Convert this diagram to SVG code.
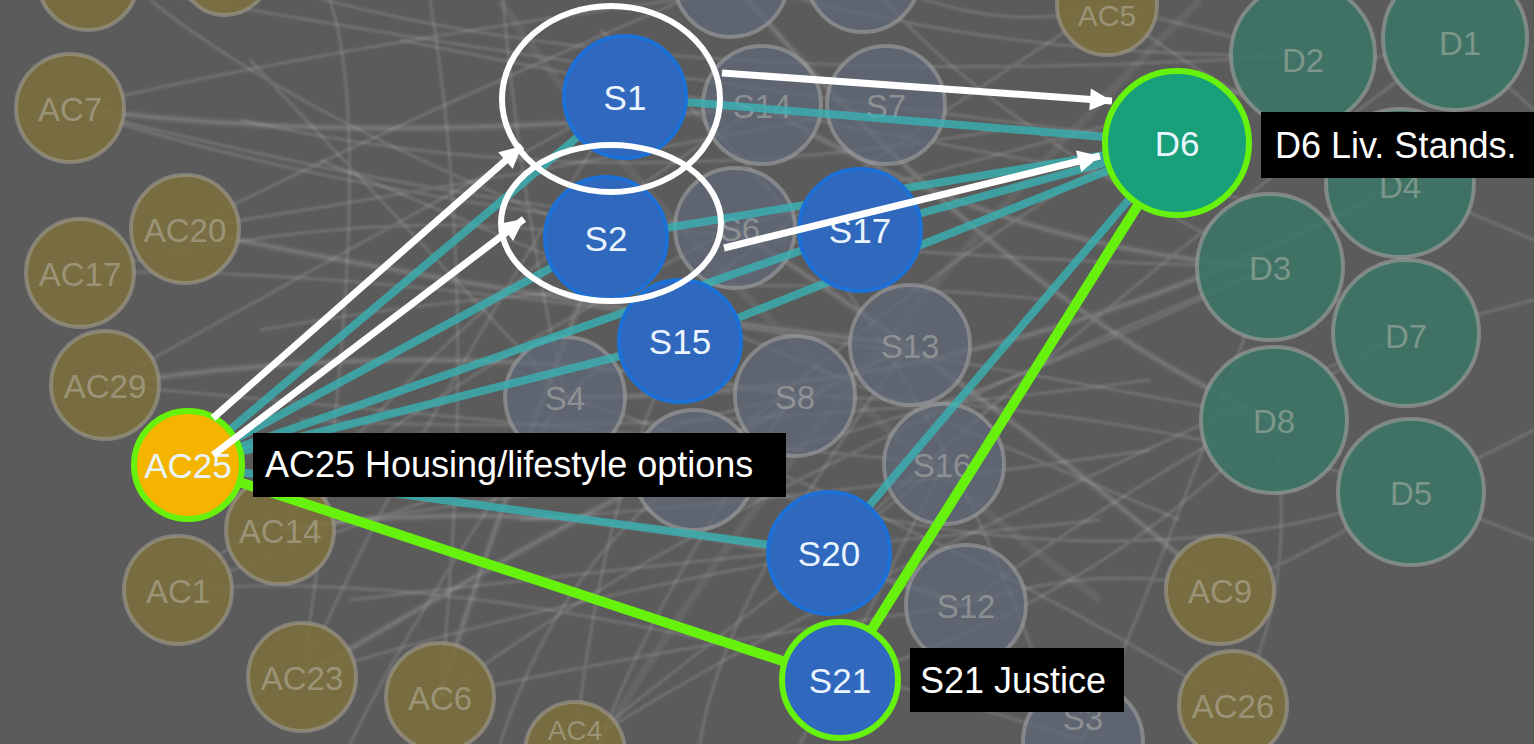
<svg xmlns="http://www.w3.org/2000/svg" width="1534" height="744" viewBox="0 0 1534 744">
<defs>
<style>
.tex{fill:none;stroke:#ffffff;stroke-opacity:0.13;stroke-width:3}
.tex2{fill:none;stroke:#ffffff;stroke-opacity:0.06;stroke-width:8}
.fac{fill:#7c6e3e;stroke:#a09c90;stroke-opacity:0.6;stroke-width:4;fill-opacity:0.88}
.fs{fill:#5f6a7a;stroke:#a0a0a0;stroke-opacity:0.6;stroke-width:4;fill-opacity:0.7}
.fd{fill:#3c7466;stroke:#a0a4a0;stroke-opacity:0.6;stroke-width:4;fill-opacity:0.88}
.ft{font-family:"Liberation Sans",Arial,sans-serif;font-size:33px;fill:#c8c6bb;fill-opacity:0.45;text-anchor:middle}
.teal{fill:none;stroke:#38b2b4;stroke-opacity:0.8;stroke-width:8;stroke-linecap:round}
.green{fill:none;stroke:#66f20c;stroke-width:10;stroke-linecap:round}
.blue{fill:#2f68bd;stroke:#1c70d6;stroke-width:4}
.nt{font-family:"Liberation Sans",Arial,sans-serif;font-size:35px;fill:#eaf4ff;text-anchor:middle}
.lbl{fill:#000000}
.lt{font-family:"Liberation Sans",Arial,sans-serif;font-size:36px;fill:#ffffff}
.ring{fill:none;stroke:#ffffff;stroke-width:6}
.arr{fill:none;stroke:#ffffff;stroke-width:7;marker-end:url(#ah)}
</style>
<filter id="soft" x="-5%" y="-5%" width="110%" height="110%"><feGaussianBlur stdDeviation="1.2"/></filter>
<marker id="ah" viewBox="0 0 10 10" markerUnits="userSpaceOnUse" markerWidth="26" markerHeight="22" refX="10" refY="5" orient="auto">
<path d="M0,0 L10,5 L0,10 z" fill="#ffffff"/>
</marker>
</defs>
<rect width="1534" height="744" fill="#5b5b5b"/>
<g id="texture" filter="url(#soft)">
<path class="tex2" d="M70 108 Q400 150 762 105 M185 229 Q520 300 910 345 M105 385 Q450 330 795 396 M302 677 Q600 500 910 345 M1270 267 Q1000 250 762 105 M1274 420 Q1000 300 731 -20 M440 697 Q500 500 606 238 M1400 183 Q1000 400 565 397 M280 530 Q600 480 966 605 M1220 590 Q1000 400 735 228 M500 0 Q700 300 1100 600 M600 744 Q800 400 1200 0"/>
<path class="tex" d="M70 108 Q400 150 762 105 M70 108 Q420 200 735 228 M70 108 Q500 250 1270 267 M185 229 Q500 180 886 105 M185 229 Q520 300 910 345 M80 273 Q450 260 1274 420 M105 385 Q450 330 795 396 M105 385 Q500 420 944 464 M280 530 Q600 480 966 605 M178 590 Q500 560 1083 740 M302 677 Q600 500 910 345 M440 697 Q700 500 1270 267 M575 750 Q800 600 1406 333 M1220 590 Q1000 400 735 228 M1233 705 Q900 500 565 397 M1107 5 Q800 200 565 397 M225 -30 Q600 100 1303 55 M88 -20 Q500 60 1177 143"/>
<path class="tex" d="M1303 55 Q1000 200 694 470 M1455 38 Q1100 300 829 553 M1400 183 Q1000 400 565 397 M1270 267 Q1000 250 762 105 M1406 333 Q1100 500 966 605 M1274 420 Q1000 300 731 -20 M1411 492 Q1100 400 795 396 M1274 420 Q1100 600 840 680 M1303 55 Q1000 60 731 -20 M1455 38 Q1000 150 735 228 M1270 267 Q950 420 694 470 M1411 492 Q1100 600 694 470 M1406 333 Q1000 150 863 -25"/>
<path class="tex" d="M440 697 Q500 500 606 238 M575 750 Q600 500 680 341 M302 677 Q400 450 625 97 M178 590 Q400 400 735 228 M280 530 Q450 300 762 105 M302 677 Q550 600 829 553 M440 697 Q650 650 966 605 M575 750 Q700 650 944 464 M178 590 Q550 450 795 396 M280 530 Q500 500 694 470 M105 385 Q350 250 625 97 M80 273 Q380 200 606 238 M185 229 Q400 120 731 -20 M70 108 Q350 40 863 -25"/>
<path class="tex" d="M1411 492 L1534 430 M1406 333 L1534 300 M1455 38 L1534 110 M1400 183 L1534 240 M1411 492 L1534 540 M1220 590 Q1300 560 1411 492 M1233 705 Q1300 600 1274 420 M1083 740 Q1150 600 1270 267 M966 605 Q1100 560 1220 590 M1107 5 Q1200 80 1400 183 M1107 5 L1303 55 M863 -25 Q1000 40 1107 5"/>
<path class="tex" d="M503 0 Q520 200 565 397 M430 0 Q480 300 440 697 M330 0 Q380 150 302 677 M250 60 Q380 200 565 397 M150 0 Q300 120 606 238 M600 744 Q650 600 795 396 M700 744 Q720 600 910 345 M800 744 Q850 650 944 464 M350 744 Q420 600 565 397 M500 744 Q560 560 694 470"/>
<path class="tex" d="M240 120 Q600 200 1000 130 M260 330 Q650 260 1050 300 M300 420 Q700 440 1150 380 M320 160 Q700 320 1180 520 M400 40 Q800 120 1250 200 M520 520 Q800 500 1150 450 M350 600 Q700 560 1100 520 M600 30 Q900 260 1050 700"/>
</g>
<g id="faded-nodes">
<g id="AC-top1"><circle class="fac" cx="88" cy="-20" r="50"/></g>
<g id="AC-top2"><circle class="fac" cx="225" cy="-30" r="45"/></g>
<g id="AC5"><circle class="fac" cx="1107" cy="5" r="50"/><text class="ft" x="1107" y="26" style="font-size:30px">AC5</text></g>
<g id="AC7"><circle class="fac" cx="70" cy="108" r="54"/><text class="ft" x="70" y="121">AC7</text></g>
<g id="AC20"><circle class="fac" cx="185" cy="229" r="54"/><text class="ft" x="185" y="242">AC20</text></g>
<g id="AC17"><circle class="fac" cx="80" cy="273" r="54"/><text class="ft" x="80" y="286">AC17</text></g>
<g id="AC29"><circle class="fac" cx="105" cy="385" r="54"/><text class="ft" x="105" y="398">AC29</text></g>
<g id="AC14"><circle class="fac" cx="280" cy="530" r="54"/><text class="ft" x="280" y="543">AC14</text></g>
<g id="AC1"><circle class="fac" cx="178" cy="590" r="54"/><text class="ft" x="178" y="603">AC1</text></g>
<g id="AC23"><circle class="fac" cx="302" cy="677" r="54"/><text class="ft" x="302" y="690">AC23</text></g>
<g id="AC6"><circle class="fac" cx="440" cy="697" r="54"/><text class="ft" x="440" y="710">AC6</text></g>
<g id="AC4"><circle class="fac" cx="575" cy="752" r="50"/><text class="ft" x="575" y="740" style="font-size:28px">AC4</text></g>
<g id="AC9"><circle class="fac" cx="1220" cy="590" r="54"/><text class="ft" x="1220" y="603">AC9</text></g>
<g id="AC26"><circle class="fac" cx="1233" cy="705" r="54"/><text class="ft" x="1233" y="718">AC26</text></g>
<g id="S-top1"><circle class="fs" cx="731" cy="-20" r="57"/></g>
<g id="S-top2"><circle class="fs" cx="863" cy="-25" r="57"/></g>
<g id="S14"><circle class="fs" cx="762" cy="105" r="59"/><text class="ft" x="762" y="118">S14</text></g>
<g id="S7"><circle class="fs" cx="886" cy="105" r="59"/><text class="ft" x="886" y="118">S7</text></g>
<g id="S6"><circle class="fs" cx="735" cy="228" r="60"/><text class="ft" x="740" y="241">S6</text></g>
<g id="S4"><circle class="fs" cx="565" cy="397" r="60"/><text class="ft" x="565" y="410">S4</text></g>
<g id="S8"><circle class="fs" cx="795" cy="396" r="60"/><text class="ft" x="795" y="409">S8</text></g>
<g id="S13"><circle class="fs" cx="910" cy="345" r="60"/><text class="ft" x="910" y="358">S13</text></g>
<g id="S16"><circle class="fs" cx="944" cy="464" r="60"/><text class="ft" x="942" y="477">S16</text></g>
<g id="S-mid"><circle class="fs" cx="694" cy="470" r="60"/></g>
<g id="S12"><circle class="fs" cx="966" cy="605" r="60"/><text class="ft" x="966" y="618">S12</text></g>
<g id="S3"><circle class="fs" cx="1083" cy="742" r="60"/><text class="ft" x="1083" y="730">S3</text></g>
<g id="D2"><circle class="fd" cx="1303" cy="55" r="72"/><text class="ft" x="1303" y="72">D2</text></g>
<g id="D1"><circle class="fd" cx="1455" cy="38" r="72"/><text class="ft" x="1460" y="55">D1</text></g>
<g id="D4"><circle class="fd" cx="1400" cy="183" r="74"/><text class="ft" x="1400" y="198">D4</text></g>
<g id="D3"><circle class="fd" cx="1270" cy="267" r="73"/><text class="ft" x="1270" y="280">D3</text></g>
<g id="D7"><circle class="fd" cx="1406" cy="333" r="73"/><text class="ft" x="1406" y="348">D7</text></g>
<g id="D8"><circle class="fd" cx="1274" cy="420" r="73"/><text class="ft" x="1274" y="433">D8</text></g>
<g id="D5"><circle class="fd" cx="1411" cy="492" r="73"/><text class="ft" x="1411" y="505">D5</text></g>
</g>
<g id="connectors">
<path class="teal" d="M188 465 L625 97"/>
<path class="teal" d="M188 465 L606 238"/>
<path class="teal" d="M188 465 L860 230"/>
<path class="teal" d="M188 465 L680 341"/>
<path class="teal" d="M188 465 L829 553"/>
<path class="teal" d="M625 97 L1177 143"/>
<path class="teal" d="M606 238 L1177 143"/>
<path class="teal" d="M860 230 L1177 143"/>
<path class="teal" d="M680 341 L1177 143"/>
<path class="teal" d="M829 553 L1177 143"/>
<path class="green" d="M188 465 L840 680"/>
<path class="green" d="M840 680 L1177 143"/>
</g>
<g id="S1"><circle class="blue" cx="625" cy="97" r="61"/><text class="nt" x="625" y="110">S1</text></g>
<g id="S2"><circle class="blue" cx="606" cy="238" r="61"/><text class="nt" x="606" y="251">S2</text></g>
<g id="S17"><circle class="blue" cx="860" cy="230" r="61"/><text class="nt" x="860" y="243">S17</text></g>
<g id="S15"><circle class="blue" cx="680" cy="341" r="61"/><text class="nt" x="680" y="354">S15</text></g>
<g id="S20"><circle class="blue" cx="829" cy="553" r="61"/><text class="nt" x="829" y="566">S20</text></g>
<g id="S21"><circle cx="840" cy="680" r="58" fill="#2f68bd" stroke="#66f20c" stroke-width="6"/><text class="nt" x="840" y="693">S21</text></g>
<g id="D6"><circle cx="1177" cy="143" r="72" fill="#18a07a" stroke="#66f20c" stroke-width="6"/><text class="nt" x="1177" y="156">D6</text></g>
<g id="AC25"><circle cx="188" cy="465" r="54" fill="#f4b400" stroke="#66f20c" stroke-width="6"/><text class="nt" x="188" y="478" fill="#fff6d8">AC25</text></g>
<g id="label-AC25"><rect class="lbl" x="253" y="433" width="533" height="64"/><text class="lt" x="265" y="477">AC25 Housing/lifestyle options</text></g>
<g id="label-D6"><rect class="lbl" x="1261" y="112" width="280" height="66"/><text class="lt" x="1275" y="158">D6 Liv. Stands.</text></g>
<g id="label-S21"><rect class="lbl" x="910" y="648" width="214" height="64"/><text class="lt" x="920" y="693">S21 Justice</text></g>
<g id="annotations">
<ellipse class="ring" cx="611" cy="99" rx="109" ry="93"/>
<ellipse class="ring" cx="611" cy="223" rx="110" ry="78"/>
<path class="arr" d="M213 418 L522 146"/>
<path class="arr" d="M213 455 L524 219"/>
<path class="arr" d="M722 73 L1112 101"/>
<path class="arr" d="M724 248 L1100 156"/>
</g>
</svg>
